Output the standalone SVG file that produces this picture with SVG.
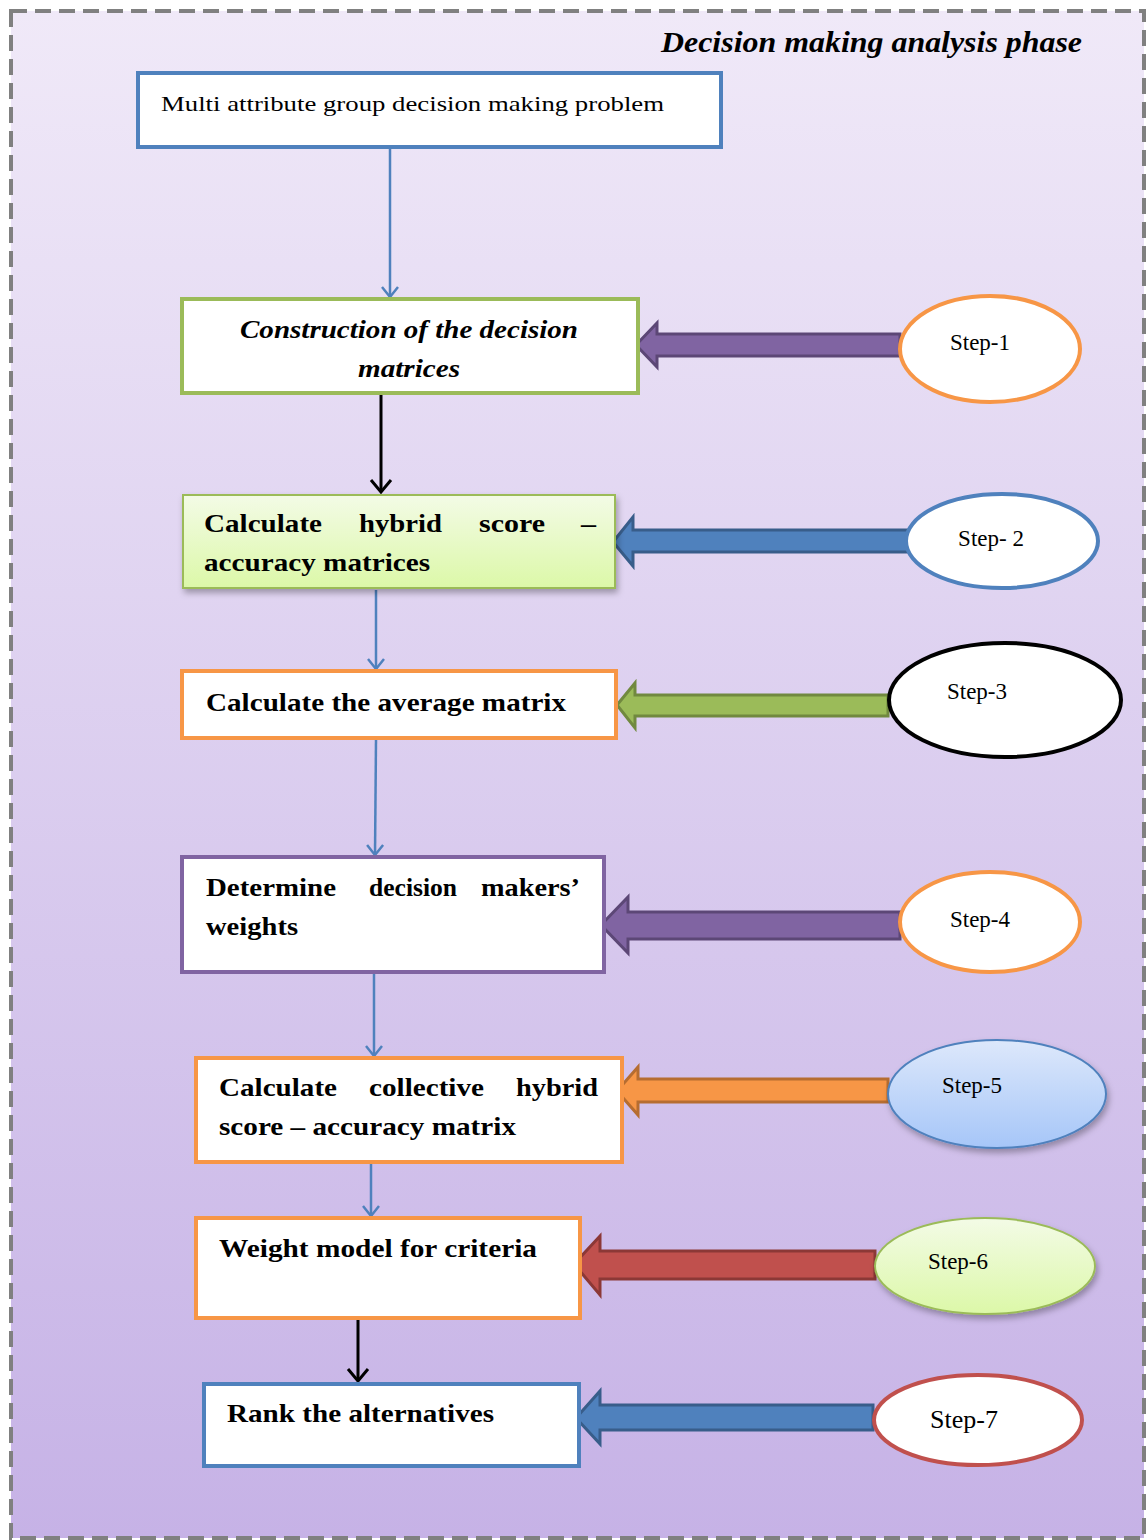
<svg xmlns="http://www.w3.org/2000/svg" width="1146" height="1540" viewBox="0 0 1146 1540">
<defs>
<linearGradient id="bg" x1="0" y1="0" x2="0" y2="1">
<stop offset="0" stop-color="#f0e9f8"/>
<stop offset="1" stop-color="#c6b2e6"/>
</linearGradient>
<linearGradient id="gGreen" x1="0" y1="0" x2="0" y2="1">
<stop offset="0" stop-color="#f3fbe6"/>
<stop offset="1" stop-color="#dcf8a8"/>
</linearGradient>
<linearGradient id="gBlue" x1="0" y1="0" x2="0" y2="1">
<stop offset="0" stop-color="#dde8fb"/>
<stop offset="1" stop-color="#a6c6f8"/>
</linearGradient>
<filter id="sh" x="-10%" y="-10%" width="125%" height="130%">
<feDropShadow dx="2" dy="4" stdDeviation="3" flood-color="#000" flood-opacity="0.3"/>
</filter>
<marker id="chevBlue" viewBox="0 0 20 20" refX="18" refY="10" markerWidth="20" markerHeight="20" markerUnits="userSpaceOnUse" orient="auto">
<path d="M8,2 L18,10 L8,18" fill="none" stroke="#4f81bd" stroke-width="2.5"/>
</marker>
<marker id="chevBlack" viewBox="0 0 24 24" refX="22" refY="12" markerWidth="24" markerHeight="24" markerUnits="userSpaceOnUse" orient="auto">
<path d="M10,2 L22,12 L10,22" fill="none" stroke="#000" stroke-width="3"/>
</marker>
<style>
.box{fill:#fff;stroke-width:4}
.t{font-family:"Liberation Serif","DejaVu Serif",serif;fill:#000}
.b{font-weight:bold;font-size:26px}
.step{font-size:23px;text-anchor:middle}
.conn{stroke:#4f81bd;stroke-width:2.5;fill:none}
.connk{stroke:#000;stroke-width:3;fill:none}
.ell{fill:#fff;stroke-width:4}
</style>
</defs>
<rect x="0" y="0" width="1146" height="1540" fill="#fff"/>
<rect x="11" y="11" width="1133" height="1527" fill="url(#bg)" stroke="#808080" stroke-width="4" stroke-dasharray="16 8"/>
<text class="t" x="1082" y="52" font-size="30" font-weight="bold" font-style="italic" text-anchor="end" textLength="421" lengthAdjust="spacingAndGlyphs">Decision making analysis phase</text>

<g id="connectors">
<line class="conn" x1="390" y1="147" x2="390" y2="297" marker-end="url(#chevBlue)"/>
<line class="connk" x1="381" y1="393" x2="381" y2="492" marker-end="url(#chevBlack)"/>
<line class="conn" x1="376" y1="590" x2="376" y2="669" marker-end="url(#chevBlue)"/>
<line class="conn" x1="376" y1="740" x2="375" y2="855" marker-end="url(#chevBlue)"/>
<line class="conn" x1="374" y1="973" x2="374" y2="1056" marker-end="url(#chevBlue)"/>
<line class="conn" x1="371" y1="1163" x2="371" y2="1216" marker-end="url(#chevBlue)"/>
<line class="connk" x1="358" y1="1318" x2="358" y2="1381" marker-end="url(#chevBlack)"/>
<path d="M636,345 L657,323 L657,334 L900,334 L900,356 L657,356 L657,367 Z" fill="#8064a2" stroke="#5c4776" stroke-width="3"/>
<path d="M613,542 L633,517 L633,530 L908,530 L908,552 L633,552 L633,566 Z" fill="#4f81bd" stroke="#385d8a" stroke-width="3"/>
<path d="M617,705 L635,683 L635,695 L888,695 L888,716 L635,716 L635,728 Z" fill="#9bbb59" stroke="#71893f" stroke-width="3"/>
<path d="M601,925 L628,897 L628,912 L900,912 L900,939 L628,939 L628,953 Z" fill="#8064a2" stroke="#5c4776" stroke-width="3"/>
<path d="M617,1091 L638,1067 L638,1079 L888,1079 L888,1102 L638,1102 L638,1115 Z" fill="#f79646" stroke="#b66d31" stroke-width="3"/>
<path d="M574,1264 L600,1236 L600,1251 L875,1251 L875,1279 L600,1279 L600,1295 Z" fill="#c0504d" stroke="#8c3836" stroke-width="3"/>
<path d="M576,1418 L600,1391 L600,1405 L873,1405 L873,1430 L600,1430 L600,1444 Z" fill="#4f81bd" stroke="#385d8a" stroke-width="3"/>
</g>

<g id="n-problem">
<rect class="box" x="138" y="73" width="583" height="74" stroke="#4f81bd"/>
<text class="t" x="161" y="111" font-size="22" textLength="503" lengthAdjust="spacingAndGlyphs">Multi attribute group decision making problem</text>
</g>
<g id="n-construct">
<rect class="box" x="182" y="299" width="456" height="94" stroke="#9bbb59"/>
<text class="t b" font-style="italic" x="240" y="338" textLength="338" lengthAdjust="spacingAndGlyphs">Construction of the decision</text>
<text class="t b" font-style="italic" x="358" y="377" textLength="102" lengthAdjust="spacingAndGlyphs">matrices</text>
</g>
<g id="n-hybrid">
<rect x="183" y="495" width="432" height="93" fill="url(#gGreen)" stroke="#9bbb59" stroke-width="2" filter="url(#sh)"/>
<text class="t b" x="204" y="532" textLength="118" lengthAdjust="spacingAndGlyphs">Calculate</text>
<text class="t b" x="359" y="532" textLength="83" lengthAdjust="spacingAndGlyphs">hybrid</text>
<text class="t b" x="479" y="532" textLength="66" lengthAdjust="spacingAndGlyphs">score</text>
<text class="t b" x="581" y="532" textLength="15" lengthAdjust="spacingAndGlyphs">–</text>
<text class="t b" x="204" y="571" textLength="226" lengthAdjust="spacingAndGlyphs">accuracy matrices</text>
</g>
<g id="n-average">
<rect class="box" x="182" y="671" width="434" height="67" stroke="#f79646"/>
<text class="t b" x="206" y="711" textLength="360" lengthAdjust="spacingAndGlyphs">Calculate the average matrix</text>
</g>
<g id="n-weights">
<rect class="box" x="182" y="857" width="422" height="115" stroke="#8064a2"/>
<text class="t b" x="206" y="896" textLength="130" lengthAdjust="spacingAndGlyphs">Determine</text>
<text class="t b" x="369" y="896" textLength="88" lengthAdjust="spacingAndGlyphs">decision</text>
<text class="t b" x="481" y="896" textLength="99" lengthAdjust="spacingAndGlyphs">makers’</text>
<text class="t b" x="206" y="935" textLength="92" lengthAdjust="spacingAndGlyphs">weights</text>
</g>
<g id="n-collective">
<rect class="box" x="196" y="1058" width="426" height="104" stroke="#f79646"/>
<text class="t b" x="219" y="1096" textLength="118" lengthAdjust="spacingAndGlyphs">Calculate</text>
<text class="t b" x="369" y="1096" textLength="115" lengthAdjust="spacingAndGlyphs">collective</text>
<text class="t b" x="516" y="1096" textLength="82" lengthAdjust="spacingAndGlyphs">hybrid</text>
<text class="t b" x="219" y="1135" textLength="297" lengthAdjust="spacingAndGlyphs">score – accuracy matrix</text>
</g>
<g id="n-weightmodel">
<rect class="box" x="196" y="1218" width="384" height="100" stroke="#f79646"/>
<text class="t b" x="219" y="1257" textLength="318" lengthAdjust="spacingAndGlyphs">Weight model for criteria</text>
</g>
<g id="n-rank">
<rect class="box" x="204" y="1384" width="375" height="82" stroke="#4f81bd"/>
<text class="t b" x="227" y="1422" textLength="267" lengthAdjust="spacingAndGlyphs">Rank the alternatives</text>
</g>

<g id="s1">
<ellipse class="ell" cx="990" cy="349" rx="90" ry="53" stroke="#f79646"/>
<text class="t step" x="980" y="350">Step-1</text>
</g>
<g id="s2">
<ellipse class="ell" cx="1002" cy="541" rx="96" ry="47" stroke="#4f81bd"/>
<text class="t step" x="991" y="546">Step- 2</text>
</g>
<g id="s3">
<ellipse class="ell" cx="1005" cy="700" rx="116" ry="57" stroke="#000"/>
<text class="t step" x="977" y="699">Step-3</text>
</g>
<g id="s4">
<ellipse class="ell" cx="990" cy="922" rx="90" ry="50" stroke="#f79646"/>
<text class="t step" x="980" y="927">Step-4</text>
</g>
<g id="s5">
<ellipse cx="997" cy="1094" rx="109" ry="54" fill="url(#gBlue)" stroke="#4f81bd" stroke-width="2" filter="url(#sh)"/>
<text class="t step" x="972" y="1093">Step-5</text>
</g>
<g id="s6">
<ellipse cx="985" cy="1266" rx="110" ry="48" fill="url(#gGreen)" stroke="#9bbb59" stroke-width="2" filter="url(#sh)"/>
<text class="t step" x="958" y="1269">Step-6</text>
</g>
<g id="s7">
<ellipse class="ell" cx="978" cy="1420" rx="104" ry="45" stroke="#c0504d"/>
<text class="t" x="964" y="1428" font-size="26" text-anchor="middle">Step-7</text>
</g>
</svg>
